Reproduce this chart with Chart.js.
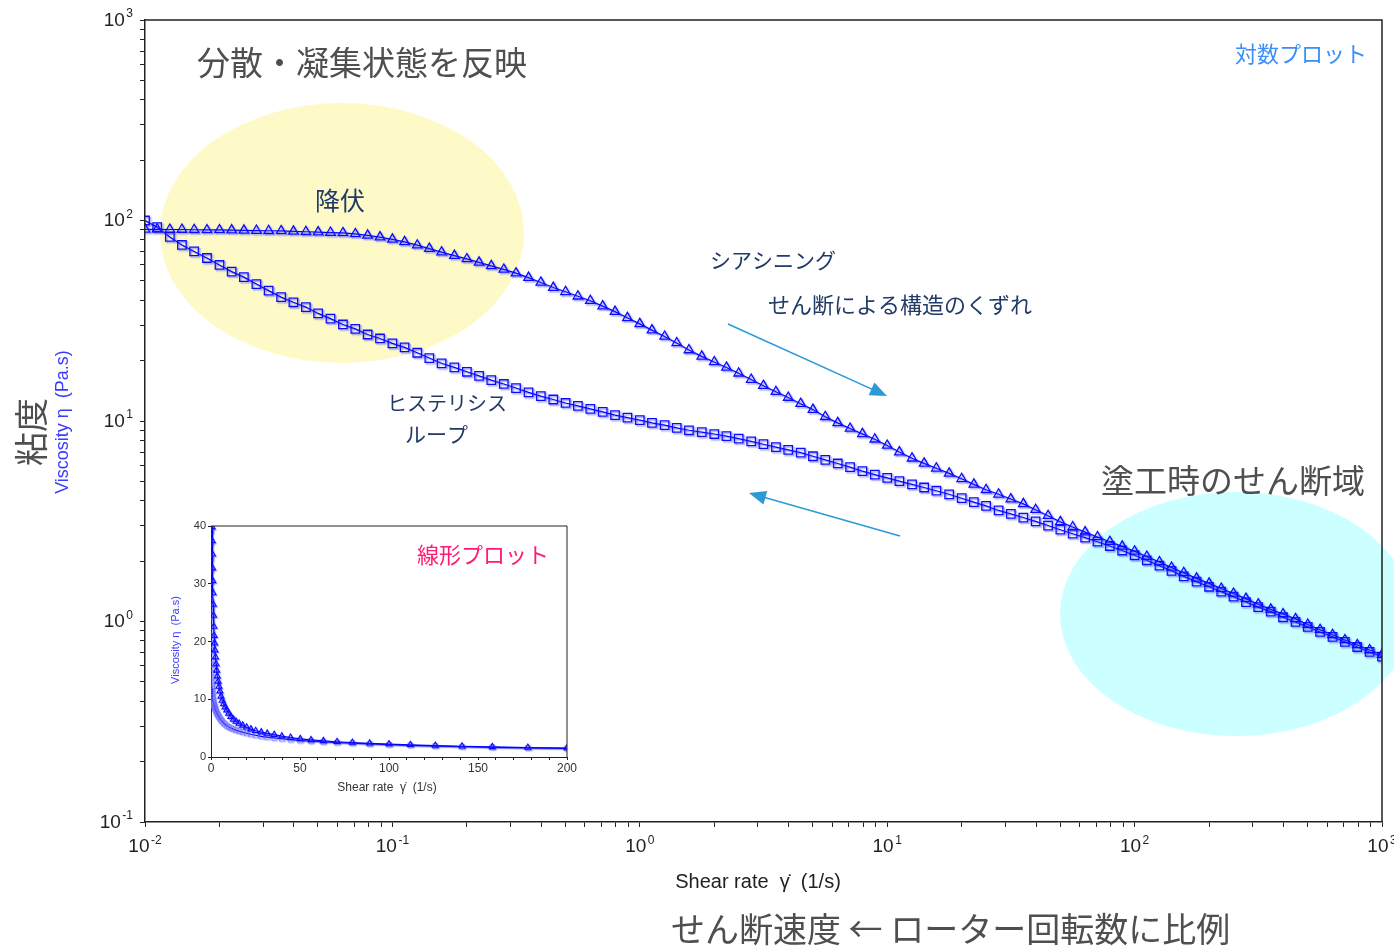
<!DOCTYPE html>
<html lang="ja">
<head>
<meta charset="utf-8">
<title>粘度 – せん断速度</title>
<script src="https://cdn.jsdelivr.net/npm/chart.js@4.4.1/dist/chart.umd.min.js"></script>
<style>
  html, body { margin: 0; padding: 0; background: #fff; }
  #wrap { position: relative; width: 1394px; height: 947px; overflow: hidden; }
  #main { position: absolute; left: 0; top: 0; }
  #inset { position: absolute; left: 160px; top: 510px; }
</style>
</head>
<body>
<div id="wrap">
  <canvas id="main" width="1394" height="947"></canvas>
  <canvas id="inset" width="430" height="290"></canvas>
</div>
<script>
// Shear rate sweep (1/s), 20 points per decade
const shearRate = [
  0.01, 0.0112, 0.0126, 0.0141, 0.0158, 0.0178, 0.02, 0.0224, 0.0251, 0.0282,
  0.0316, 0.0355, 0.0398, 0.0447, 0.0501, 0.0562, 0.0631, 0.0708, 0.0794, 0.0891,
  0.1, 0.112, 0.126, 0.141, 0.158, 0.178, 0.2, 0.224, 0.251, 0.282,
  0.316, 0.355, 0.398, 0.447, 0.501, 0.562, 0.631, 0.708, 0.794, 0.891,
  1, 1.12, 1.26, 1.41, 1.58, 1.78, 2, 2.24, 2.51, 2.82,
  3.16, 3.55, 3.98, 4.47, 5.01, 5.62, 6.31, 7.08, 7.94, 8.91,
  10, 11.2, 12.6, 14.1, 15.8, 17.8, 20, 22.4, 25.1, 28.2,
  31.6, 35.5, 39.8, 44.7, 50.1, 56.2, 63.1, 70.8, 79.4, 89.1,
  100, 112, 126, 141, 158, 178, 200, 224, 251, 282,
  316, 355, 398, 447, 501, 562, 631, 708, 794, 891,
  1000
];

// Viscosity (Pa.s) while the shear rate goes up (triangles)
const viscosityUp = [
  90.4, 90.4, 90.2, 90.2, 89.9, 89.7, 89.7, 89.5, 89.3, 89.1,
  88.9, 88.7, 88.3, 87.9, 87.5, 87.1, 86.7, 85.7, 84.3, 82.6,
  80.5, 78.2, 75.3, 72.4, 69.5, 66.8, 64.3, 61.8, 59.4, 57.0,
  54.6, 51.9, 49.1, 46.3, 44.1, 41.9, 39.8, 37.4, 35.1, 32.7,
  30.5, 28.4, 26.4, 24.5, 22.6, 21.0, 19.7, 18.5, 17.3, 16.1,
  15.0, 14.0, 13.1, 12.2, 11.4, 10.5, 9.79, 9.18, 8.63, 8.11,
  7.55, 7.00, 6.52, 6.15, 5.81, 5.48, 5.15, 4.83, 4.54, 4.31,
  4.08, 3.86, 3.61, 3.37, 3.14, 2.96, 2.79, 2.64, 2.50, 2.37,
  2.24, 2.11, 1.98, 1.86, 1.75, 1.64, 1.55, 1.46, 1.38, 1.30,
  1.22, 1.15, 1.09, 1.03, 0.966, 0.910, 0.859, 0.809, 0.764, 0.721,
  0.684
];

// Viscosity (Pa.s) on the return sweep (squares)
const viscosityDown = [
  100, 92.7, 82.8, 75.5, 70.1, 65.0, 60.0, 55.6, 52.2, 48.2,
  44.7, 41.5, 39.1, 37.0, 34.4, 32.4, 30.3, 28.8, 27.0, 25.8,
  24.4, 23.3, 21.9, 20.6, 19.4, 18.5, 17.6, 16.8, 16.0, 15.3,
  14.6, 13.9, 13.3, 12.8, 12.3, 11.9, 11.5, 11.1, 10.7, 10.4,
  10.1, 9.79, 9.53, 9.25, 8.99, 8.81, 8.61, 8.41, 8.17, 7.91,
  7.66, 7.41, 7.18, 6.95, 6.67, 6.40, 6.14, 5.89, 5.62, 5.40,
  5.20, 5.01, 4.83, 4.66, 4.49, 4.31, 4.12, 3.94, 3.77, 3.58,
  3.44, 3.30, 3.16, 3.01, 2.87, 2.74, 2.62, 2.50, 2.38, 2.26,
  2.14, 2.02, 1.90, 1.79, 1.68, 1.58, 1.49, 1.41, 1.33, 1.25,
  1.18, 1.12, 1.05, 0.995, 0.940, 0.887, 0.838, 0.791, 0.746, 0.705,
  0.668
];

// Axis ticks
const xDecades = [-2, -1, 0, 1, 2, 3];
const yDecades = [-1, 0, 1, 2, 3];
const minorSteps = [2, 3, 4, 5, 6, 7, 8, 9];
const insetXTicks = [0, 50, 100, 150, 200];
const insetXMinorStep = 10;
const insetYTicks = [0, 10, 20, 30, 40];

const SANS = '"Liberation Sans", Arial, sans-serif';
const JP = '"Noto Sans CJK JP", "Noto Sans", sans-serif';
const AXIS_TITLE = 'Shear rate  \u03B3\u0307  (1/s)';
const Y_TITLE = 'Viscosity \u03B7  (Pa.s)';

const toPoints = (xs, ys) => xs.map((x, i) => ({ x, y: ys[i] }));

function logTicks(decades) {
  const out = [];
  decades.forEach((d, k) => {
    const base = Math.pow(10, d);
    out.push({ value: base, major: true });
    if (k < decades.length - 1) minorSteps.forEach(m => out.push({ value: m * base }));
  });
  return out;
}

// soft blue halo behind every marker
const markerHalo = {
  id: 'markerHalo',
  beforeDatasetDraw(chart, args, opts) {
    const ctx = chart.ctx;
    ctx.save();
    ctx.shadowColor = opts.color;
    ctx.shadowBlur = opts.blur;
    ctx.shadowOffsetX = opts.dx;
    ctx.shadowOffsetY = opts.dy;
  },
  afterDatasetDraw(chart) { chart.ctx.restore(); }
};

function powerLabel(ctx, exp, x, y, anchor) {
  const base = '10', sup = String(exp);
  ctx.font = '19px ' + SANS;
  const wb = ctx.measureText(base).width;
  ctx.font = '12px ' + SANS;
  const ws = ctx.measureText(sup).width;
  const total = wb + 1.5 + ws;
  const left = anchor === 'center' ? x - total / 2 : x - total;
  ctx.fillStyle = '#222';
  ctx.textAlign = 'left';
  ctx.textBaseline = 'alphabetic';
  ctx.font = '19px ' + SANS;
  ctx.fillText(base, left, y + 7);
  ctx.font = '12px ' + SANS;
  ctx.fillText(sup, left + wb + 1.5, y - 1.5);
}

function arrow(ctx, x1, y1, x2, y2) {
  const a = Math.atan2(y2 - y1, x2 - x1);
  const L = 17, W = 7;
  const c = Math.cos(a), s = Math.sin(a);
  ctx.save();
  ctx.strokeStyle = ctx.fillStyle = '#2b9bd8';
  ctx.lineWidth = 1.6;
  ctx.beginPath();
  ctx.moveTo(x1, y1);
  ctx.lineTo(x2 - L * 0.8 * c, y2 - L * 0.8 * s);
  ctx.stroke();
  ctx.beginPath();
  ctx.moveTo(x2, y2);
  ctx.lineTo(x2 - L * c + W * s, y2 - L * s - W * c);
  ctx.lineTo(x2 - L * c - W * s, y2 - L * s + W * c);
  ctx.closePath();
  ctx.fill();
  ctx.restore();
}

function label(ctx, text, x, y, size, color, family) {
  ctx.save();
  ctx.font = size + 'px ' + (family || JP);
  ctx.fillStyle = color;
  ctx.textAlign = 'left';
  ctx.textBaseline = 'middle';
  ctx.fillText(text, x, y);
  ctx.restore();
}

function rotated(ctx, text, cx, cy, font, color) {
  ctx.save();
  ctx.translate(cx, cy);
  ctx.rotate(-Math.PI / 2);
  ctx.font = font;
  ctx.fillStyle = color;
  ctx.textAlign = 'center';
  ctx.textBaseline = 'middle';
  ctx.fillText(text, 0, 0);
  ctx.restore();
}

const NAVY = '#223a66';
const GREY = '#4f4f4f';

const mainDecor = {
  id: 'mainDecor',
  beforeDraw(chart) {
    const ctx = chart.ctx;
    ctx.save();
    ctx.fillStyle = '#fff';
    ctx.fillRect(0, 0, chart.width, chart.height);
    // yield region
    ctx.fillStyle = '#fdfac8';
    ctx.beginPath();
    ctx.ellipse(342, 233, 182, 130, 0, 0, Math.PI * 2);
    ctx.fill();
    // coating shear region
    ctx.fillStyle = '#ccffff';
    ctx.beginPath();
    ctx.ellipse(1236, 614, 176, 122, 0, 0, Math.PI * 2);
    ctx.fill();
    ctx.restore();
  },
  afterDraw(chart) {
    const ctx = chart.ctx;
    const { left, right, top, bottom } = chart.chartArea;
    const xs = chart.scales.x, ys = chart.scales.y;

    // frame
    ctx.save();
    ctx.strokeStyle = '#222';
    ctx.lineWidth = 1.5;
    ctx.beginPath();
    ctx.moveTo(left, top);
    ctx.lineTo(right, top);
    ctx.lineTo(right, bottom);
    ctx.stroke();
    ctx.restore();

    // tick labels
    xDecades.forEach(d => powerLabel(ctx, d, xs.getPixelForValue(Math.pow(10, d)), bottom + 23, 'center'));
    yDecades.forEach(d => powerLabel(ctx, d, left - 12, ys.getPixelForValue(Math.pow(10, d)) - 1.5, 'right'));

    // axis titles
    ctx.save();
    ctx.font = '20px ' + SANS;
    ctx.fillStyle = '#222';
    ctx.textAlign = 'center';
    ctx.textBaseline = 'middle';
    ctx.fillText(AXIS_TITLE, 758, 882);
    ctx.restore();
    label(ctx, 'せん断速度 ← ローター回転数に比例', 671, 929, 34, GREY);

    rotated(ctx, Y_TITLE, 63, 422, '18px ' + SANS, '#3b3bff');
    rotated(ctx, '粘度', 31, 432, '34px ' + JP, GREY);

    // annotations
    label(ctx, '分散・凝集状態を反映', 197, 62, 33, GREY);
    label(ctx, '降伏', 315, 200, 25, NAVY);
    label(ctx, 'シアシニング', 710, 260, 21, NAVY);
    label(ctx, 'せん断による構造のくずれ', 768, 305, 22, NAVY);
    label(ctx, 'ヒステリシス', 387, 403, 20, NAVY);
    label(ctx, 'ループ', 405, 434, 21, NAVY);
    label(ctx, '対数プロット', 1235, 54, 22, '#3a8ef6');
    label(ctx, '塗工時のせん断域', 1101, 480, 33, GREY);

    arrow(ctx, 728, 324, 887, 396);
    arrow(ctx, 900, 536, 749, 493);
  }
};

const insetDecor = {
  id: 'insetDecor',
  beforeDraw(chart) {
    const ctx = chart.ctx;
    ctx.save();
    ctx.fillStyle = '#fff';
    ctx.fillRect(0, 0, chart.width, chart.height);
    ctx.restore();
  },
  afterDraw(chart) {
    const ctx = chart.ctx;
    const { left, right, top, bottom } = chart.chartArea;
    ctx.save();
    ctx.strokeStyle = '#222';
    ctx.lineWidth = 1;
    ctx.beginPath();
    ctx.moveTo(left, top);
    ctx.lineTo(right, top);
    ctx.lineTo(right, bottom);
    ctx.stroke();
    ctx.font = '12px ' + SANS;
    ctx.fillStyle = '#333';
    ctx.textAlign = 'center';
    ctx.textBaseline = 'middle';
    ctx.fillText(AXIS_TITLE, (left + right) / 2 - 2, bottom + 31);
    ctx.restore();
    rotated(ctx, Y_TITLE, 16, 130, '11px ' + SANS, '#3b3bff');
    label(ctx, '線形プロット', 257, 45, 22, '#ff1a72');
  }
};

const commonAxis = {
  grid: { drawOnChartArea: false, drawTicks: true, tickLength: 5, color: '#222', lineWidth: 1 },
  border: { display: true, color: '#222', width: 1.5 }
};

new Chart(document.getElementById('main'), {
  type: 'scatter',
  data: {
    datasets: [
      {
        label: 'Shear rate up',
        data: toPoints(shearRate, viscosityUp),
        showLine: true,
        borderColor: '#0000ff',
        borderWidth: 1.2,
        pointStyle: 'triangle',
        pointRadius: 5.5,
        pointBorderColor: '#0a0aff',
        pointBackgroundColor: 'rgba(0,0,0,0)',
        pointBorderWidth: 1.3
      },
      {
        label: 'Shear rate down',
        data: toPoints(shearRate, viscosityDown),
        showLine: true,
        borderColor: '#0000ff',
        borderWidth: 1.2,
        pointStyle: 'rect',
        pointRadius: 6,
        pointBorderColor: '#0a0aff',
        pointBackgroundColor: 'rgba(0,0,0,0)',
        pointBorderWidth: 1.3
      }
    ]
  },
  options: {
    responsive: false,
    animation: false,
    devicePixelRatio: 1,
    layout: { padding: { top: 20, right: 12, left: 0, bottom: 0 } },
    plugins: {
      legend: { display: false },
      tooltip: { enabled: false },
      markerHalo: { color: 'rgba(70,70,255,0.55)', blur: 1.5, dx: 1.5, dy: 1.5 }
    },
    scales: {
      x: {
        type: 'logarithmic', min: 0.01, max: 1000,
        afterBuildTicks: s => { s.ticks = logTicks(xDecades); },
        afterFit: s => { s.height = 125; },
        ticks: { display: false },
        ...commonAxis
      },
      y: {
        type: 'logarithmic', min: 0.1, max: 1000,
        afterBuildTicks: s => { s.ticks = logTicks(yDecades); },
        afterFit: s => { s.width = 145; },
        ticks: { display: false },
        ...commonAxis
      }
    }
  },
  plugins: [markerHalo, mainDecor]
});

const insetMinor = [];
for (let v = insetXTicks[0]; v <= insetXTicks[insetXTicks.length - 1]; v += insetXMinorStep) insetMinor.push(v);

new Chart(document.getElementById('inset'), {
  type: 'scatter',
  data: {
    datasets: [
      {
        label: 'Shear rate up',
        data: toPoints(shearRate, viscosityUp),
        showLine: true,
        borderColor: '#0000ff',
        borderWidth: 1.2,
        pointStyle: 'triangle',
        pointRadius: 3.5,
        pointBorderColor: '#0a0aff',
        pointBackgroundColor: 'rgba(0,0,0,0)',
        pointBorderWidth: 1.1
      },
      {
        label: 'Shear rate down',
        data: toPoints(shearRate, viscosityDown),
        showLine: true,
        borderColor: '#0000ff',
        borderWidth: 1.2,
        pointStyle: 'rect',
        pointRadius: 3.5,
        pointBorderColor: 'rgba(110,110,255,0.6)',
        pointBackgroundColor: 'rgba(0,0,0,0)',
        pointBorderWidth: 1
      }
    ]
  },
  options: {
    responsive: false,
    animation: false,
    devicePixelRatio: 1,
    layout: { padding: { top: 16, right: 23, left: 0, bottom: 0 } },
    plugins: {
      legend: { display: false },
      tooltip: { enabled: false },
      markerHalo: { color: 'rgba(70,70,255,0.45)', blur: 1, dx: 1, dy: 1 }
    },
    scales: {
      x: {
        type: 'linear', min: 0, max: 200,
        afterBuildTicks: s => { s.ticks = insetMinor.map(v => ({ value: v })); },
        afterFit: s => { s.height = 43; },
        ticks: {
          autoSkip: false, maxRotation: 0, padding: 1, color: '#333',
          font: { family: SANS, size: 12 },
          callback: v => insetXTicks.includes(v) ? String(v) : ''
        },
        grid: { drawOnChartArea: false, tickLength: 3, color: '#222', lineWidth: 1 },
        border: { display: true, color: '#222', width: 1 }
      },
      y: {
        type: 'linear', min: 0, max: 40,
        afterBuildTicks: s => { s.ticks = insetYTicks.map(v => ({ value: v })); },
        afterFit: s => { s.width = 51; },
        ticks: { padding: 2, color: '#333', font: { family: SANS, size: 11 } },
        grid: { drawOnChartArea: false, tickLength: 3, color: '#222', lineWidth: 1 },
        border: { display: true, color: '#222', width: 1 }
      }
    }
  },
  plugins: [markerHalo, insetDecor]
});
</script>
</body>
</html>
